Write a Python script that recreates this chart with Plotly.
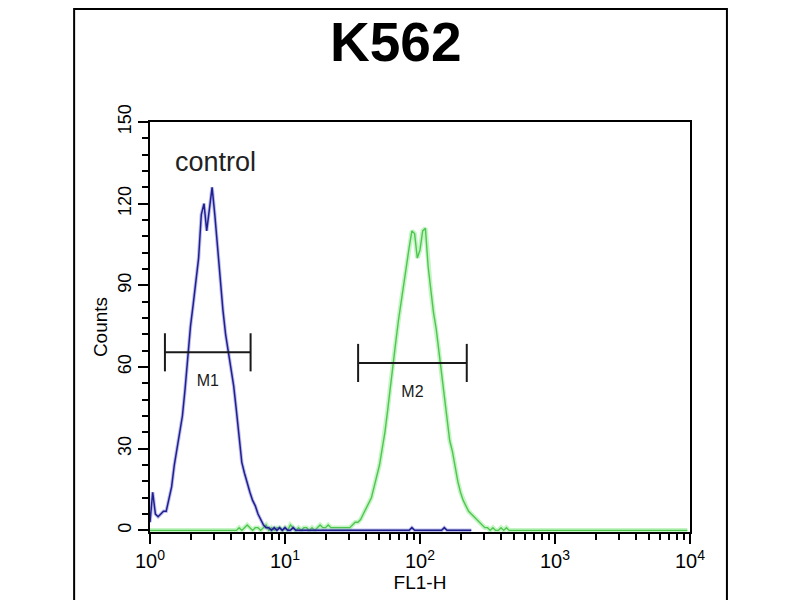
import numpy as np
import plotly.graph_objects as go

# ---- data ----
n_channels = 200          # log-amplified channels, 4 decades
channel_per_decade = 50

control_counts = [
    3, 14, 6, 5, 6, 7, 7, 11, 16, 24,
    30, 36, 42, 52, 64, 75, 83, 91, 100, 116,
    120, 110, 118, 126, 116, 104, 92, 81, 72, 66,
    59, 53, 44, 35, 25, 21, 17, 14, 11, 9,
    6, 4, 2, 1, 1, 0, 1, 0, 1, 0,
    1, 0, 0, 1, 0, 0, 0, 0, 0, 0,
    0, 0, 0, 0, 0, 0, 0, 0, 0, 0,
    0, 0, 0, 0, 0, 0, 0, 0, 0, 0,
    0, 0, 0, 0, 0, 0, 0, 0, 0, 0,
    0, 0, 0, 0, 0, 0, 0, 1, 0, 0,
    0, 0, 0, 0, 0, 0, 0, 0, 0, 1,
    0, 0, 0, 0, 0, 0, 0, 0, 0, 0,
]

sample_counts = [
    0, 0, 0, 0, 0, 0, 0, 0, 0, 0,
    0, 0, 0, 0, 0, 0, 0, 0, 0, 0,
    0, 0, 0, 0, 0, 0, 0, 0, 0, 0,
    0, 0, 0, 1, 0, 1, 2, 1, 0, 1,
    1, 0, 1, 2, 0, 1, 0, 1, 1, 0,
    1, 0, 2, 1, 0, 1, 0, 1, 1, 0,
    1, 0, 1, 2, 1, 1, 2, 1, 1, 1,
    1, 1, 1, 1, 1, 2, 3, 3, 4, 6,
    8, 10, 12, 16, 20, 24, 30, 36, 44, 53,
    62, 69, 77, 84, 90, 97, 104, 110, 109, 100,
    103, 110, 111, 97, 88, 80, 74, 66, 57, 49,
    40, 33, 29, 23, 18, 14, 11, 9, 7, 6,
    5, 4, 3, 2, 1, 1, 0, 1, 0, 0,
    1, 0, 1, 0, 0, 0, 0, 0, 0, 0,
    0, 0, 0, 0, 0, 0, 0, 0, 0, 0,
    0, 0, 0, 0, 0, 0, 0, 0, 0, 0,
    0, 0, 0, 0, 0, 0, 0, 0, 0, 0,
    0, 0, 0, 0, 0, 0, 0, 0, 0, 0,
    0, 0, 0, 0, 0, 0, 0, 0, 0, 0,
    0, 0, 0, 0, 0, 0, 0, 0, 0, 0,
]

gate_names = ["M1", "M2"]
gate_low = [1.29, 34.8]
gate_high = [5.56, 222.0]
gate_level = [65.4, 61.5]
gate_cap = 7.0

x_tickvals = [1, 10, 100, 1000, 10000]
x_ticktext = ["10<sup>0</sup>", "10<sup>1</sup>", "10<sup>2</sup>",
              "10<sup>3</sup>", "10<sup>4</sup>"]
y_tickvals = [0, 30, 60, 90, 120, 150]

title_text = "K562"
control_label = "control"

# ---- figure ----
fl1 = 10 ** (np.arange(n_channels) / channel_per_decade)

FONT = "Liberation Sans, Arial, sans-serif"
GREEN_CORE = "#4fc64f"
GREEN_GLOW = "rgba(150,235,150,0.55)"
BLUE_CORE = "#1f1f90"
BLUE_GLOW = "rgba(110,110,210,0.45)"

fig = go.Figure()

# sample (green) with glow
fig.add_trace(go.Scatter(x=fl1[:len(sample_counts)], y=sample_counts, mode="lines",
                         line=dict(color=GREEN_GLOW, width=4.5), hoverinfo="skip",
                         showlegend=False))
fig.add_trace(go.Scatter(x=fl1[:len(sample_counts)], y=sample_counts, mode="lines",
                         line=dict(color=GREEN_CORE, width=1.4), showlegend=False))
# control (blue) with glow
fig.add_trace(go.Scatter(x=fl1[:len(control_counts)], y=control_counts, mode="lines",
                         line=dict(color=BLUE_GLOW, width=3.5), hoverinfo="skip",
                         showlegend=False))
fig.add_trace(go.Scatter(x=fl1[:len(control_counts)], y=control_counts, mode="lines",
                         line=dict(color=BLUE_CORE, width=1.5), showlegend=False))

# gates
for name, lo, hi, lv in zip(gate_names, gate_low, gate_high, gate_level):
    fig.add_trace(go.Scatter(
        x=[lo, lo, None, lo, hi, None, hi, hi],
        y=[lv - gate_cap, lv + gate_cap, None, lv, lv, None, lv - gate_cap, lv + gate_cap],
        mode="lines", line=dict(color="#1a1a1a", width=2), showlegend=False))
    fig.add_trace(go.Scatter(
        x=[np.sqrt(lo * hi)], y=[lv - 11], mode="text", text=[name],
        textfont=dict(family=FONT, size=16, color="#1a1a1a"), showlegend=False))

axis_common = dict(showline=True, linecolor="black", linewidth=2, mirror=True,
                   showgrid=False, zeroline=False, ticks="outside",
                   tickcolor="black", tickwidth=1.5, ticklen=10, automargin=False)

fig.update_xaxes(type="log", range=[0, 4], tickmode="array",
                 tickvals=x_tickvals, ticktext=x_ticktext,
                 tickfont=dict(family=FONT, size=20, color="black"),
                 minor=dict(dtick="D1", ticks="outside", ticklen=6,
                            tickcolor="black", tickwidth=1.5, showgrid=False),
                 title=dict(text="FL1-H", font=dict(family=FONT, size=19, color="black"),
                            standoff=4),
                 layer="below traces", **axis_common)
fig.update_yaxes(range=[-0.6, 150], tickmode="array", tickvals=y_tickvals,
                 tickangle=-90,
                 tickfont=dict(family=FONT, size=18, color="black"),
                 minor=dict(dtick=6, ticks="outside", ticklen=6,
                            tickcolor="black", tickwidth=1.5, showgrid=False),
                 title=dict(text="Counts", font=dict(family=FONT, size=19, color="black"),
                            standoff=2),
                 layer="below traces", **axis_common)

fig.add_annotation(text=f"<b>{title_text}</b>", xref="paper", yref="paper",
                   x=0.455, y=1.2756, xanchor="center", yanchor="top",
                   showarrow=False, font=dict(family=FONT, size=55, color="black"))
fig.add_annotation(text=control_label, xref="paper", yref="paper",
                   x=0.122, y=0.902, xanchor="center", yanchor="middle",
                   showarrow=False, font=dict(family=FONT, size=27, color="#222222"))

# outer frame of the original image
fig.add_shape(type="rect", xref="paper", yref="paper",
              x0=-0.1405, x1=1.0684, y0=-0.25, y1=1.2756,
              line=dict(color="black", width=2), fillcolor="rgba(0,0,0,0)",
              layer="below")

fig.update_layout(width=792, height=592,
                  margin=dict(l=142, r=110, t=114, b=68),
                  paper_bgcolor="white", plot_bgcolor="white",
                  showlegend=False)

fig.write_html("out.html")
